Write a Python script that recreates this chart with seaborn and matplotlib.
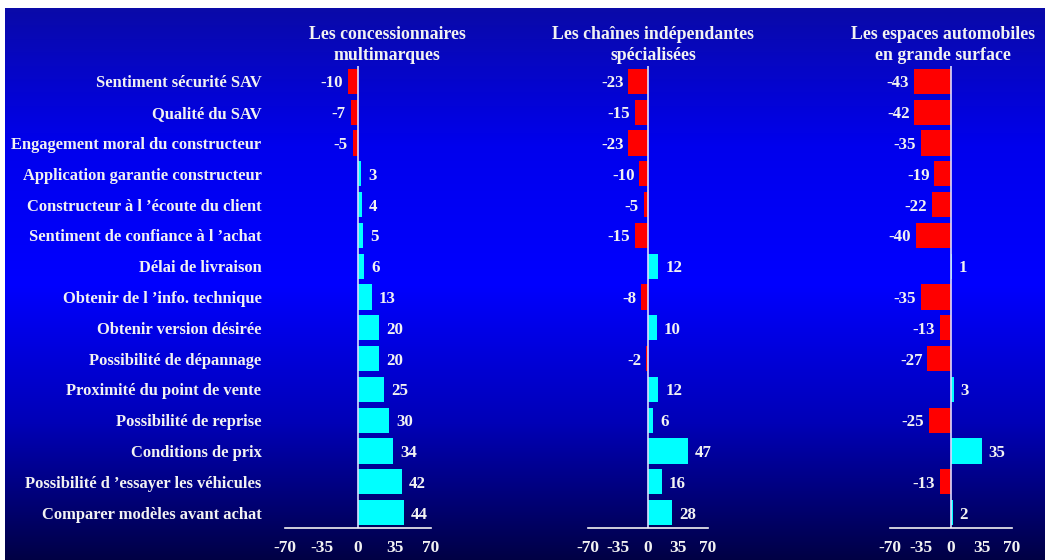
import numpy as np
import pandas as pd
import matplotlib
matplotlib.use("Agg")
import matplotlib.pyplot as plt
from matplotlib.colors import LinearSegmentedColormap
import seaborn as sns

categories = [
    "Sentiment sécurité SAV",
    "Qualité du SAV",
    "Engagement moral du constructeur",
    "Application garantie constructeur",
    "Constructeur à l \u2019écoute du client",
    "Sentiment de confiance à l \u2019achat",
    "Délai de livraison",
    "Obtenir de l \u2019info. technique",
    "Obtenir version désirée",
    "Possibilité de dépannage",
    "Proximité du point de vente",
    "Possibilité de reprise",
    "Conditions de prix",
    "Possibilité d \u2019essayer les véhicules",
    "Comparer modèles avant achat",
]
titles = [
    "Les concessionnaires\nmultimarques",
    "Les chaînes indépendantes\nspécialisées",
    "Les espaces automobiles\nen grande surface",
]
concessionnaires = [-10, -7, -5, 3, 4, 5, 6, 13, 20, 20, 25, 30, 34, 42, 44]
chaines = [-23, -15, -23, -10, -5, -15, 12, -8, 10, -2, 12, 6, 47, 16, 28]
grande_surface = [-43, -42, -35, -19, -22, -40, 1, -35, -13, -27, 3, -25, 35, -13, 2]
xticks = [-70, -35, 0, 35, 70]

plt.rcParams["font.family"] = ["Liberation Serif", "DejaVu Serif"]
plt.rcParams["font.weight"] = "bold"
txt = "#f2f2f2"

fig = plt.figure(figsize=(10.45, 5.6), dpi=100)

# fond dégradé bleu
bg = fig.add_axes([5 / 1045, 0, 1 - 5 / 1045, 1 - 8 / 560])
cmap = LinearSegmentedColormap.from_list(
    "fond", [(0, (0.04, 0.04, 0.66)), (0.25, (0.0, 0.0, 0.93)), (0.5, (0.0, 0.0, 1.0)),
             (0.75, (0.0, 0.0, 0.72)), (1, (0.0, 0.0, 0.27))])
bg.imshow(np.linspace(0, 1, 256).reshape(-1, 1), aspect="auto", cmap=cmap)
bg.axis("off")

positions = [(285, 146), (588, 120), (890, 122)]
title_x = [387, 653, 943]
series = [concessionnaires, chaines, grande_surface]

for i, (vals, (left, width)) in enumerate(zip(series, positions)):
    ax = fig.add_axes([left / 1045, 1 - 528 / 560, width / 1045, 462 / 560])
    df = pd.DataFrame({"cat": categories, "val": vals})
    df["signe"] = np.where(df["val"] < 0, "neg", "pos")
    sns.barplot(data=df, x="val", y="cat", hue="signe",
                palette={"neg": "#ff0000", "pos": "#00ffff"}, saturation=1,
                dodge=False, legend=False, width=0.82, ax=ax, orient="h")
    ax.set_facecolor("none")
    ax.set_xlim(-70, 70)
    ax.set_ylim(14.5, -0.5)
    ax.set_xticks(xticks)
    ax.set_xticklabels([str(t) for t in xticks], color=txt, fontsize=12.5, fontweight="bold")
    ax.tick_params(axis="x", length=0, pad=9)
    ax.axvline(0, color="#dcdcff", lw=1.2)
    for s in ["top", "right", "left"]:
        ax.spines[s].set_visible(False)
    ax.spines["bottom"].set_color(txt)
    ax.spines["bottom"].set_linewidth(1.2)
    ax.set_xlabel("")
    ax.set_ylabel("")
    if i == 0:
        ax.tick_params(axis="y", length=0, pad=17)
        for lab in ax.get_yticklabels():
            lab.set_color(txt)
            lab.set_fontsize(11.9)
            lab.set_fontweight("bold")
    else:
        ax.set_yticks([])
    for j, v in enumerate(vals):
        off = 5 if v >= 0 else -3.5
        ax.annotate(str(v), (v, j), xytext=(off, -1.5), textcoords="offset points",
                    ha="left" if v >= 0 else "right", va="center",
                    color=txt, fontsize=12.2, fontweight="bold")
    fig.text(title_x[i] / 1045, 1 - 45 / 560, titles[i], ha="center", va="center",
             color=txt, fontsize=12.8, fontweight="bold", linespacing=1.3)

fig.savefig("out.png", dpi=100)
